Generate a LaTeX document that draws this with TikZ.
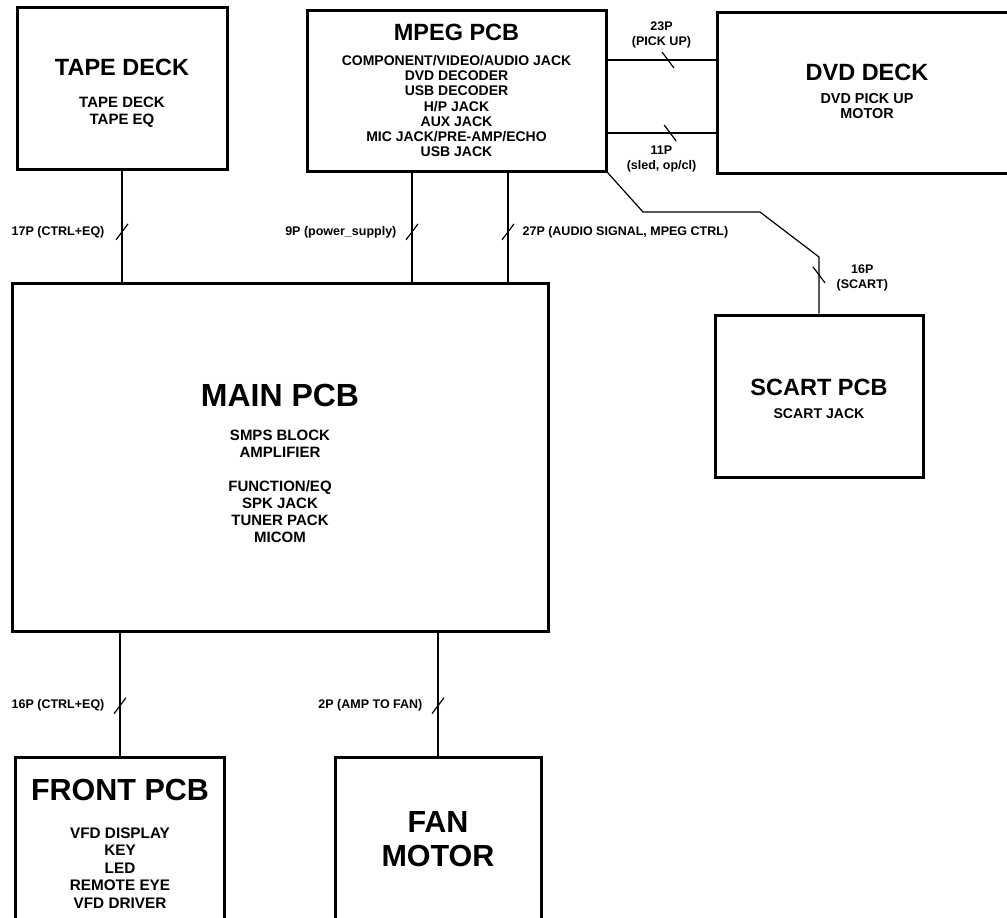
\documentclass[tikz,border=0pt]{standalone}
\usepackage{fontspec}
\setmainfont{Liberation Sans}
\usetikzlibrary{positioning}

\begin{document}
\begin{tikzpicture}[x=1pt,y=-1pt,
  bx/.style={draw,line width=3pt,inner sep=0pt},
  ttl/.style={font=\bfseries\fontsize{23.5}{26}\selectfont},
  big/.style={font=\bfseries\fontsize{30.5}{34}\selectfont,align=center},
  sub/.style={font=\bfseries\fontsize{15}{17}\selectfont,align=center},
  lbl/.style={font=\bfseries\fontsize{12.5}{15}\selectfont,align=center,inner sep=0pt},
  wire/.style={line width=1.2pt},
  fw/.pic={\draw[wire] (-6,8)--(6,-8);},
  bw/.pic={\draw[wire] (-6,-8)--(6,8);}]
\useasboundingbox (0,0) rectangle (1007,918);
\clip (0,0) rectangle (1007,918);
% boxes
\node[bx,minimum width=210pt,minimum height=162pt](tape) at (122,88){};
\node[bx,minimum width=299pt,minimum height=161pt](mpeg) at (456.5,90.5){};
\node[bx,minimum width=313pt,minimum height=161pt](dvd) at (873.5,92.5){};
\node[bx,minimum width=536pt,minimum height=348pt](main) at (280,457){};
\node[bx,minimum width=208pt,minimum height=162pt](scart) at (819,396){};
\node[bx,minimum width=209pt,minimum height=183pt](front) at (120,848.5){};
\node[bx,minimum width=206pt,minimum height=183pt](fan) at (438,848.5){};
% texts
\node[ttl](tapeT) at (122,67){TAPE DECK};
\node[sub](tapeS) at (122,112.5){TAPE DECK\\TAPE EQ};
\node[ttl](mpegT) at (456.5,32){MPEG PCB};
\node[sub,font=\bfseries\fontsize{14}{15.3}\selectfont](mpegS) at (456.5,106)
  {COMPONENT/VIDEO/AUDIO JACK\\DVD DECODER\\USB DECODER\\H/P JACK\\AUX JACK\\MIC JACK/PRE-AMP/ECHO\\USB JACK};
\node[ttl](dvdT) at (867,72){DVD DECK};
\node[sub,font=\bfseries\fontsize{14.4}{15}\selectfont](dvdS) at (867,106.5){DVD PICK UP\\MOTOR};
\node[big,font=\bfseries\fontsize{32}{34}\selectfont](mainT) at (280,395){MAIN PCB};
\node[sub](mainS) at (280,486.5){SMPS BLOCK\\AMPLIFIER\\[17pt]FUNCTION/EQ\\SPK JACK\\TUNER PACK\\MICOM};
\node[ttl](scartT) at (819,387){SCART PCB};
\node[sub,font=\bfseries\fontsize{14.1}{17}\selectfont](scartS) at (819,414){SCART JACK};
\node[big](frontT) at (120,790){FRONT PCB};
\node[sub,font=\bfseries\fontsize{15.3}{17.5}\selectfont](frontS) at (120,868)
  {VFD DISPLAY\\KEY\\LED\\REMOTE EYE\\VFD DRIVER};
\node[big](fanT) at (438,839){FAN\\MOTOR};
% connectors
\coordinate(m1) at ([xshift=-44.5pt]mpeg.south);
\coordinate(m2) at ([xshift=51.5pt]mpeg.south);
\coordinate(u1) at (0,60);
\coordinate(u2) at (0,133);
\coordinate(j1) at (643,212);
\coordinate(j2) at (760,212);
\coordinate(j3) at (819,257);
\draw[wire](tape.south)--pic[pos=.553]{fw} node[pos=.553,left=17pt,lbl]{17P (CTRL+EQ)}(tape.south |- main.north);
\draw[wire](m1)--pic[pos=.545]{fw} node[pos=.545,left=15pt,lbl]{9P (power\_supply)}(m1 |- main.north);
\draw[wire](m2)--pic[pos=.545]{fw} node[pos=.545,right=14pt,lbl]{27P (AUDIO SIGNAL, MPEG CTRL)}(m2 |- main.north);
\draw[wire](mpeg.east |- u1)--pic[pos=.56]{bw} node[pos=.5,above=11pt,lbl]{23P\\(PICK UP)}(dvd.west |- u1);
\draw[wire](mpeg.east |- u2)--pic[pos=.58]{bw} node[pos=.5,below=12pt,lbl]{11P\\(sled, op/cl)}(dvd.west |- u2);
\draw[wire](mpeg.south east)--(j1)--(j2)--(j3)--pic[pos=.316]{bw} node[pos=.37,right=17pt,lbl]{16P\\(SCART)}(scart.north);
\draw[wire](front.north |- main.south)--pic[pos=.595]{fw} node[pos=.595,left=15pt,lbl]{16P (CTRL+EQ)}(front.north);
\draw[wire](fan.north |- main.south)--pic[pos=.595]{fw} node[pos=.595,left=15pt,lbl]{2P (AMP TO FAN)}(fan.north);
\end{tikzpicture}
\end{document}
